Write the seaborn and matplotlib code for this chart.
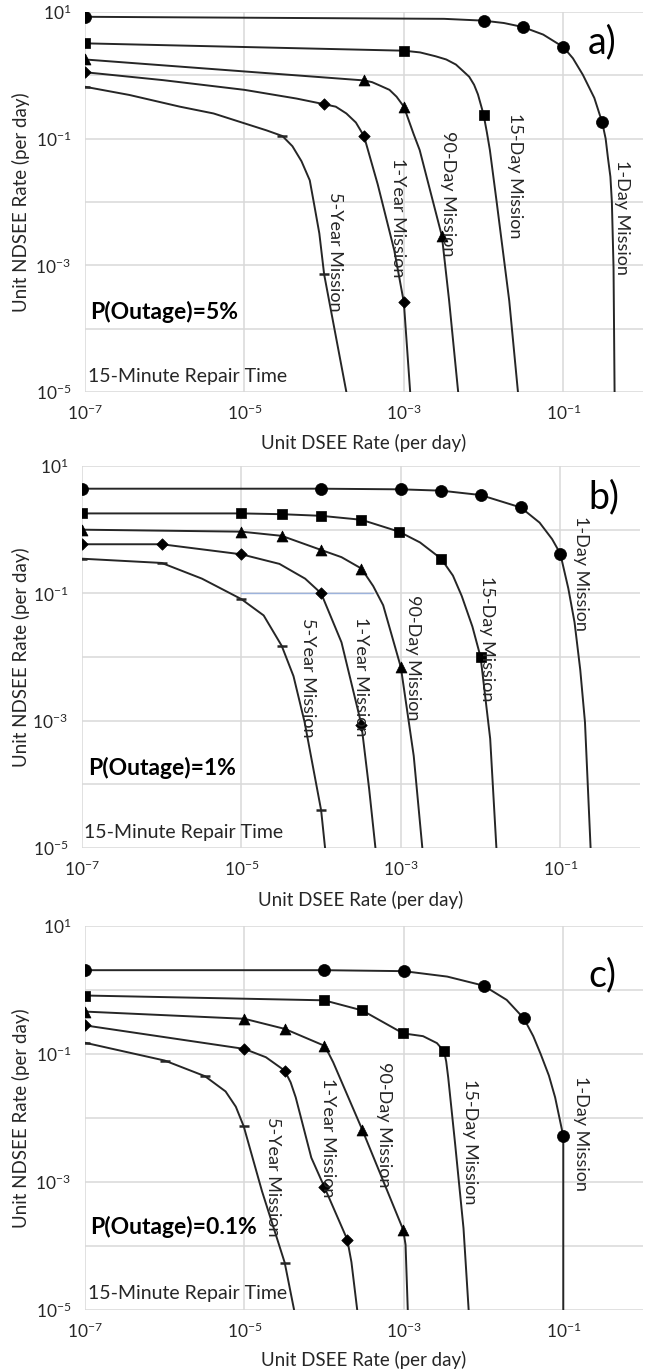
import numpy as np
import pandas as pd
import matplotlib
matplotlib.use('Agg')
import matplotlib.pyplot as plt
import matplotlib.ticker as mticker
import seaborn as sns

# ------------------------------------------------------------
# DATA (per day rates)
# each curve: x = DSEE rate, y = NDSEE rate, mk = indices drawn with a marker
# ------------------------------------------------------------
missions = ['1-Day Mission', '15-Day Mission', '90-Day Mission',
            '1-Year Mission', '5-Year Mission']
panel_tags = ['a)', 'b)', 'c)']
outage_text = ['P(Outage)=5%', 'P(Outage)=1%', 'P(Outage)=0.1%']
repair_text = '15-Minute Repair Time'
x_ticks = [1e-7, 1e-5, 1e-3, 1e-1]
y_ticks = [1e1, 1e0, 1e-1, 1e-2, 1e-3, 1e-4, 1e-5]

# panel a) P(Outage)=5%
a_day1_x = [1e-7, 3.2e-3, 1e-2, 1.8e-2, 3.1e-2, 5.6e-2, 1e-1, 1.32e-1, 1.76e-1, 2.45e-1,
            3.08e-1, 3.4e-1, 3.63e-1, 3.9e-1, 4.07e-1, 4.27e-1, 4.4e-1]
a_day1_y = [8.4, 7.8, 7.3, 6.7, 5.8, 4.4, 2.8, 1.86, 1.02, 0.44,
            0.18, 0.1, 5.0e-2, 2.5e-2, 1.0e-2, 9.1e-4, 1e-5]
a_day1_mk = [0, 2, 4, 6, 10]
a_day15_x = [1e-7, 1e-3, 1.6e-3, 2.5e-3, 3.4e-3, 4.5e-3, 5.4e-3, 6.6e-3, 7.6e-3, 8.5e-3,
             1e-2, 1.1e-2, 1.2e-2, 1.46e-2, 2.1e-2, 2.7e-2]
a_day15_y = [3.2, 2.45, 2.3, 2.0, 1.78, 1.48, 1.2, 0.95, 0.71, 0.5,
             0.24, 0.126, 6.6e-2, 1.0e-2, 2.75e-4, 1e-5]
a_day15_mk = [0, 1, 10]
a_day90_x = [1e-7, 3.2e-4, 4.0e-4, 5.0e-4, 6.6e-4, 8.1e-4, 1e-3, 1.32e-3, 1.58e-3, 3.0e-3,
             3.7e-3, 4.8e-3]
a_day90_y = [1.78, 0.83, 0.78, 0.69, 0.59, 0.46, 0.32, 0.12, 6.6e-2, 2.9e-3,
             2.75e-4, 1e-5]
a_day90_mk = [0, 1, 6, 9]
a_yr1_x = [1e-7, 9.5e-7, 1e-5, 4.5e-5, 1e-4, 1.4e-4, 1.9e-4, 2.5e-4, 3.16e-4, 4.7e-4,
           7.6e-4, 1e-3, 1.2e-3]
a_yr1_y = [1.12, 0.84, 0.59, 0.43, 0.35, 0.32, 0.25, 0.18, 0.11, 1.9e-2,
           1.7e-3, 2.6e-4, 1e-5]
a_yr1_mk = [0, 4, 8, 11]
a_yr5_x = [1e-7, 3.6e-7, 1.55e-6, 4.1e-6, 1.07e-5, 1.9e-5, 3.0e-5, 4.0e-5, 5.2e-5, 6.6e-5,
           7.4e-5, 8.7e-5, 1e-4, 1.9e-4]
a_yr5_y = [0.66, 0.49, 0.32, 0.25, 0.17, 0.135, 0.11, 7.6e-2, 4.4e-2, 2.2e-2,
           1.0e-2, 3.2e-3, 7.2e-4, 1e-5]
a_yr5_mk = [0, 6, 12]

# panel b) P(Outage)=1%
b_day1_x = [1e-7, 1e-4, 1e-3, 3.2e-3, 1e-2, 3.2e-2, 5.5e-2, 7.9e-2, 1e-1, 1.26e-1,
            1.51e-1, 1.78e-1, 2.04e-1, 2.4e-1]
b_day1_y = [4.4, 4.4, 4.3, 4.1, 3.5, 2.23, 1.29, 0.71, 0.42, 0.12,
            3.5e-2, 6.3e-3, 9.5e-4, 1e-5]
b_day1_mk = [0, 1, 2, 3, 4, 5, 8]
b_day15_x = [1e-7, 1e-5, 3.2e-5, 1e-4, 3.2e-4, 9.5e-4, 1.74e-3, 3.2e-3, 4.5e-3, 5.8e-3,
             7.9e-3, 1e-2, 1.32e-2, 1.58e-2]
b_day15_y = [1.8, 1.8, 1.75, 1.65, 1.43, 0.93, 0.63, 0.35, 0.19, 9.1e-2,
             3.0e-2, 1e-2, 5.2e-4, 1e-5]
b_day15_mk = [0, 1, 2, 3, 4, 5, 7, 11]
b_day90_x = [1e-7, 1e-5, 3.2e-5, 1e-4, 1.8e-4, 3.2e-4, 4.5e-4, 6.0e-4, 1e-3, 1.45e-3,
             1.86e-3]
b_day90_y = [1.0, 0.93, 0.80, 0.48, 0.37, 0.245, 0.13, 6.5e-2, 6.9e-3, 2.8e-4,
             1e-5]
b_day90_mk = [0, 1, 2, 3, 5, 8]
b_yr1_x = [1e-7, 1e-6, 1e-5, 3.0e-5, 3.9e-5, 6.3e-5, 1e-4, 1.8e-4, 3.2e-4, 4.0e-4,
           4.8e-4]
b_yr1_y = [0.59, 0.59, 0.41, 0.29, 0.24, 0.17, 0.10, 1.7e-2, 8.7e-4, 8.5e-5,
           1e-5]
b_yr1_mk = [0, 1, 2, 6, 8]
b_yr5_x = [1e-7, 1e-6, 3.2e-6, 1e-5, 1.9e-5, 3.2e-5, 4.5e-5, 6.2e-5, 1e-4, 1.12e-4]
b_yr5_y = [0.35, 0.30, 0.17, 8.1e-2, 4.5e-2, 1.5e-2, 5.0e-3, 9.5e-4, 3.9e-5, 1e-5]
b_yr5_mk = [0, 1, 3, 5, 8]
# stray light-blue rule at 10^-1 in panel b
b_blue_x = [1e-5, 4.5e-4]
b_blue_y = [0.1, 0.1]

# panel c) P(Outage)=0.1%
c_day1_x = [1e-7, 1e-4, 1e-3, 3.5e-3, 1e-2, 1.95e-2, 3.2e-2, 4.2e-2, 5.2e-2, 6.6e-2,
            7.9e-2, 1e-1, 1e-1, 1e-1]
c_day1_y = [2.04, 2.04, 1.97, 1.62, 1.17, 0.70, 0.36, 0.19, 0.10, 4.6e-2,
            2.1e-2, 5.2e-3, 3.5e-4, 1e-5]
c_day1_mk = [0, 1, 2, 4, 6, 11]
c_day15_x = [1e-7, 1e-4, 3.0e-4, 9.8e-4, 1.74e-3, 2.6e-3, 3.2e-3, 3.4e-3, 3.6e-3, 4.4e-3,
             5.6e-3, 6.5e-3]
c_day15_y = [0.82, 0.69, 0.48, 0.21, 0.19, 0.148, 0.11, 7.6e-2, 4.3e-2, 3.9e-3,
             1.9e-4, 1e-5]
c_day15_mk = [0, 1, 2, 3, 6]
c_day90_x = [1e-7, 1e-5, 3.2e-5, 1e-4, 1.15e-4, 1.3e-4, 3.0e-4, 9.8e-4, 1.05e-3, 1.12e-3]
c_day90_y = [0.46, 0.355, 0.247, 0.135, 0.1, 7.4e-2, 6.6e-3, 1.8e-4, 1.05e-4, 1e-5]
c_day90_mk = [0, 1, 2, 3, 6, 7]
c_yr1_x = [1e-7, 1e-5, 1.86e-5, 3.2e-5, 3.8e-5, 4.4e-5, 6.9e-5, 1e-4, 1.95e-4, 2.2e-4,
           2.6e-4]
c_yr1_y = [0.28, 0.12, 8.9e-2, 5.5e-2, 3.6e-2, 2.1e-2, 2.4e-3, 8.5e-4, 1.26e-4, 5.6e-5,
           1e-5]
c_yr1_mk = [0, 1, 3, 7, 8]
c_yr5_x = [1e-7, 1e-6, 3.2e-6, 5.8e-6, 7.8e-6, 9.8e-6, 1.66e-5, 3.2e-5, 4.2e-5]
c_yr5_y = [0.15, 7.9e-2, 4.5e-2, 2.6e-2, 1.5e-2, 7.4e-3, 7.2e-4, 5.5e-5, 1e-5]
c_yr5_mk = [0, 1, 2, 5, 7]

curves = {
    ('a', '1-Day Mission'): (a_day1_x, a_day1_y, a_day1_mk),
    ('a', '15-Day Mission'): (a_day15_x, a_day15_y, a_day15_mk),
    ('a', '90-Day Mission'): (a_day90_x, a_day90_y, a_day90_mk),
    ('a', '1-Year Mission'): (a_yr1_x, a_yr1_y, a_yr1_mk),
    ('a', '5-Year Mission'): (a_yr5_x, a_yr5_y, a_yr5_mk),
    ('b', '1-Day Mission'): (b_day1_x, b_day1_y, b_day1_mk),
    ('b', '15-Day Mission'): (b_day15_x, b_day15_y, b_day15_mk),
    ('b', '90-Day Mission'): (b_day90_x, b_day90_y, b_day90_mk),
    ('b', '1-Year Mission'): (b_yr1_x, b_yr1_y, b_yr1_mk),
    ('b', '5-Year Mission'): (b_yr5_x, b_yr5_y, b_yr5_mk),
    ('c', '1-Day Mission'): (c_day1_x, c_day1_y, c_day1_mk),
    ('c', '15-Day Mission'): (c_day15_x, c_day15_y, c_day15_mk),
    ('c', '90-Day Mission'): (c_day90_x, c_day90_y, c_day90_mk),
    ('c', '1-Year Mission'): (c_yr1_x, c_yr1_y, c_yr1_mk),
    ('c', '5-Year Mission'): (c_yr5_x, c_yr5_y, c_yr5_mk),
}

rows = []
for (p, m), (xs, ys, mk) in curves.items():
    for i, (xv, yv) in enumerate(zip(xs, ys)):
        rows.append({'panel': p, 'mission': m, 'x': xv, 'y': yv, 'marked': i in mk})
df = pd.DataFrame(rows)

# ------------------------------------------------------------
# STYLE / LAYOUT
# ------------------------------------------------------------
sns.set_theme(style='white')
plt.rcParams['font.family'] = ['Lato', 'DejaVu Sans']
plt.rcParams['mathtext.default'] = 'regular'
plt.rcParams['axes.unicode_minus'] = False

W, H = 645, 1372
LINE = '#262626'
TXT = '#262626'
GRID = '#d9d9d9'

marker_style = {
    '1-Day Mission': ('o', 75),
    '15-Day Mission': ('s', 55),
    '90-Day Mission': ('^', 62),
    '1-Year Mission': ('D', 34),
    '5-Year Mission': ('_', 55),
}

# axes boxes in pixels: left, right, top, bottom
boxes = [(85, 643, 12, 392), (82, 640, 466, 848), (85, 643, 926, 1310)]
xlabel_y = [443, 900, 1360]
ylabel_x = 21
# label positions in pixels (centre x, centre y)
mission_pos = [
    {'5-Year Mission': (335, 252), '1-Year Mission': (398, 218), '90-Day Mission': (448, 194),
     '15-Day Mission': (515, 176), '1-Day Mission': (622, 217)},
    {'5-Year Mission': (308, 678), '1-Year Mission': (361, 677), '90-Day Mission': (413, 658),
     '15-Day Mission': (487, 639), '1-Day Mission': (581, 573)},
    {'5-Year Mission': (273, 1177), '1-Year Mission': (328, 1138), '90-Day Mission': (384, 1125),
     '15-Day Mission': (470, 1142), '1-Day Mission': (581, 1133)},
]
tag_pos = [(602, 42), (604, 497), (602, 975)]
outage_pos = [(90, 312), (88, 768), (90, 1227)]
repair_pos = [(88, 377), (84, 833), (88, 1293)]


def fx(px):
    return px / W


def fy(py):
    return 1 - py / H


def y_fmt(v, pos):
    e = int(round(np.log10(v)))
    return r'$\mathregular{10^{%d}}$' % e if e % 2 else ''


fig = plt.figure(figsize=(W / 100, H / 100), dpi=100)
fig.patch.set_facecolor('white')

for k, p in enumerate(['a', 'b', 'c']):
    l, r, t, b = boxes[k]
    ax = fig.add_axes([fx(l), fy(b), (r - l) / W, (b - t) / H])
    ax.set_xscale('log')
    ax.set_yscale('log')
    d = df[df['panel'] == p]

    sns.lineplot(data=d, x='x', y='y', units='mission', estimator=None, sort=False,
                 color=LINE, lw=1.4, ax=ax, zorder=3)
    for m in missions:
        dm = d[(d['mission'] == m) & d['marked']]
        mk, s = marker_style[m]
        if mk == '_':
            sns.scatterplot(x=dm['x'], y=dm['y'], marker=mk, s=s, color=LINE,
                            linewidth=1.8, ax=ax, zorder=4)
        else:
            sns.scatterplot(x=dm['x'], y=dm['y'], marker=mk, s=s, color='black',
                            edgecolor='black', linewidth=0.5, ax=ax, zorder=4)
    if p == 'b':
        sns.lineplot(x=b_blue_x, y=b_blue_y, color='#9db3dc', lw=1.0, ax=ax, zorder=2)

    ax.set_xlim(1e-7, 1e0)
    ax.set_ylim(1e-5, 1e1)
    ax.xaxis.set_major_locator(mticker.FixedLocator(x_ticks))
    ax.xaxis.set_minor_locator(mticker.NullLocator())
    ax.yaxis.set_major_locator(mticker.FixedLocator(y_ticks))
    ax.yaxis.set_minor_locator(mticker.NullLocator())
    ax.xaxis.set_major_formatter(mticker.FuncFormatter(
        lambda v, pos: r'$\mathregular{10^{%d}}$' % int(round(np.log10(v)))))
    ax.yaxis.set_major_formatter(mticker.FuncFormatter(y_fmt))
    ax.tick_params(axis='both', length=0, labelsize=12.5, colors=TXT)
    ax.tick_params(axis='x', pad=8)
    ax.tick_params(axis='y', pad=10)
    ax.grid(True, which='major', color=GRID, lw=1.1)
    for sp in ax.spines.values():
        sp.set_visible(False)

    ax.set_xlabel('Unit DSEE Rate (per day)', fontsize=13.5, color=TXT, va='center')
    ax.set_ylabel('Unit NDSEE Rate (per day)', fontsize=13.5, color=TXT, va='center')
    ax.xaxis.set_label_coords(0.5, -(xlabel_y[k] - b) / (b - t))
    ax.yaxis.set_label_coords((ylabel_x - l) / (r - l), 0.5)
    if ax.get_legend():
        ax.get_legend().remove()

    for m, (cx, cy) in mission_pos[k].items():
        fig.text(fx(cx), fy(cy), m, rotation=270, ha='center', va='center',
                 fontsize=13, color=TXT)
    fig.text(fx(tag_pos[k][0]), fy(tag_pos[k][1]), panel_tags[k], ha='center',
             va='center', fontsize=27, color='black')
    fig.text(fx(outage_pos[k][0]), fy(outage_pos[k][1]), outage_text[k], ha='left',
             va='center', fontsize=16.5, fontweight='bold', color='black')
    fig.text(fx(repair_pos[k][0]), fy(repair_pos[k][1]), repair_text, ha='left',
             va='center', fontsize=14, color=TXT)

fig.savefig('out.png', dpi=100, facecolor='white')
print('saved out.png')
